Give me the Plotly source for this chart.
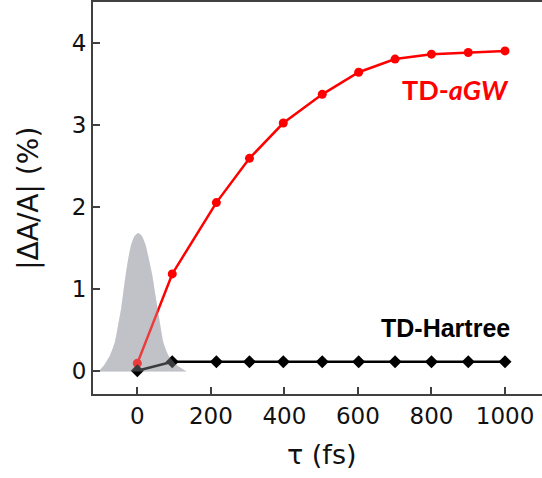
import plotly.graph_objects as go

# Delay times (fs) and |dA/A| (%)
tau = [0, 95, 215, 305, 397, 503, 602, 701, 800, 900, 1000]
td_agw = [0.09, 1.18, 2.05, 2.59, 3.02, 3.37, 3.64, 3.80, 3.86, 3.88, 3.90]
td_hartree = [0.0, 0.11, 0.11, 0.11, 0.11, 0.11, 0.11, 0.11, 0.11, 0.11, 0.11]

# Pump pulse envelope
pulse_t = [-106, -90, -74, -61, -52, -44, -38, -31.5, -24.4, -17.1, -8, 3,
           13, 22.8, 31, 40.5, 47.9, 55.2, 62.3, 70.5, 84.2, 107, 134]
pulse_y = [-0.01, 0.07, 0.19, 0.35, 0.56, 0.76, 0.96, 1.17, 1.37, 1.53, 1.64, 1.68,
           1.64, 1.53, 1.37, 1.17, 0.96, 0.76, 0.56, 0.35, 0.19, 0.07, -0.01]

x_ticks = [0, 200, 400, 600, 800, 1000]
y_ticks = [0, 1, 2, 3, 4]

fig = go.Figure()

fig.add_trace(go.Scatter(x=pulse_t, y=pulse_y, mode="lines", fill="toself",
                         line=dict(width=0, shape="spline", smoothing=0.5),
                         fillcolor="rgb(192,194,200)", hoverinfo="skip", showlegend=False))

fig.add_trace(go.Scatter(x=tau, y=td_agw, mode="lines+markers",
                         line=dict(color="#ff0000", width=2.5),
                         marker=dict(color="#ff0000", size=9, symbol="circle"),
                         showlegend=False))

fig.add_trace(go.Scatter(x=tau, y=td_hartree, mode="lines+markers",
                         line=dict(color="#000000", width=2.5),
                         marker=dict(color="#000000", size=10, symbol="diamond"),
                         showlegend=False))

fig.add_trace(go.Scatter(x=pulse_t, y=pulse_y, mode="lines", fill="toself",
                         line=dict(width=0, shape="spline", smoothing=0.5),
                         fillcolor="rgba(192,194,200,0.3)", hoverinfo="skip", showlegend=False))

fig.add_annotation(x=864, y=3.435, xref="x", yref="y", showarrow=False,
                   text="<b>TD-<i>aGW</i></b>",
                   font=dict(family="Lato", size=27, color="#ff0000"),
                   xanchor="center", yanchor="middle")
fig.add_annotation(x=839, y=0.523, xref="x", yref="y", showarrow=False,
                   text="<b>TD-Hartree</b>",
                   font=dict(family="Liberation Sans", size=25, color="#000000"),
                   xanchor="center", yanchor="middle")

# axis titles
fig.add_annotation(x=-0.1441, y=0.4987, xref="paper", yref="paper", showarrow=False,
                   text="|ΔA/A| (%)", textangle=-90,
                   font=dict(family="DejaVu Sans", size=28, color="#111111"),
                   xanchor="center", yanchor="middle")
fig.add_annotation(x=0.510, y=-0.1556, xref="paper", yref="paper", showarrow=False,
                   text="τ (fs)",
                   font=dict(family="DejaVu Sans", size=27, color="#111111"),
                   xanchor="center", yanchor="middle")

axis_common = dict(showgrid=False, zeroline=False, showline=True,
                   linecolor="#404040", linewidth=2, automargin=False,
                   ticks="inside", ticklen=7, tickwidth=1.5, tickcolor="#404040",
                   tickfont=dict(family="DejaVu Sans", size=23, color="#111111"))

fig.update_layout(
    width=542, height=478,
    margin=dict(l=93, r=0, t=2, b=84),
    paper_bgcolor="white", plot_bgcolor="white",
    xaxis=dict(range=[-120.5, 1100.6], tickvals=x_ticks, mirror=True, **axis_common),
    yaxis=dict(range=[-0.284, 4.496], tickvals=y_ticks, mirror=False, **axis_common),
)

fig.write_html("out.html", config={"displayModeBar": False},
               post_script="document.body.style.margin='0';document.body.style.overflow='hidden';")
